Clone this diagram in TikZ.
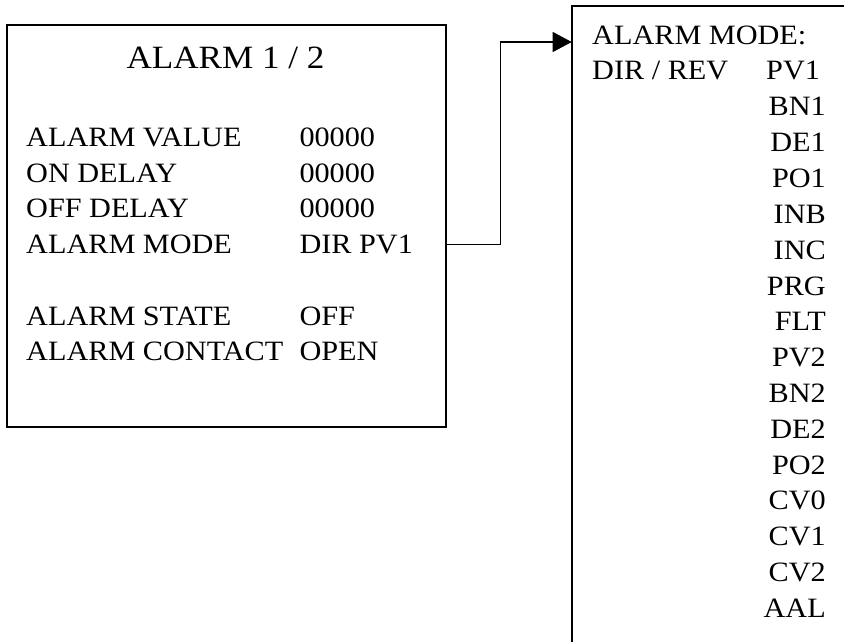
\documentclass[tikz,border=0pt]{standalone}
\usepackage{fontspec}
\setmainfont{Liberation Serif}[FakeStretch=1.08]
\usetikzlibrary{arrows.meta, positioning}
\tikzstyle{frame} = [draw=black, line width=1.6pt, rectangle, inner sep=0pt]
\tikzstyle{txt} = [font=\fontsize{28}{33}\selectfont, inner sep=0pt, text=black]
\tikzstyle{link} = [line width=1.2pt, -{Triangle[length=19pt, width=20pt]}]
\newcommand{\rowstep}{35.5}
\newcommand{\modestep}{35.8}

\begin{document}
\begin{tikzpicture}[x=1pt, y=-1pt]
	\useasboundingbox (0,0) rectangle (844,642);

	% left box
	\node [frame, anchor=north west, minimum width=439pt, minimum height=402pt] at (6,24) (alarm) {};
	\node [txt, font=\fontsize{32.5}{38}\selectfont, anchor=base] at (225.5,68.3) (title) {ALARM 1 / 2};

	\node [txt, anchor=base west] at (26,146.7) (valname) {ALARM VALUE};
	\node [txt, anchor=base west] at (26,{146.7+\rowstep}) (onname) {ON DELAY};
	\node [txt, anchor=base west] at (26,{146.7+2*\rowstep}) (offname) {OFF DELAY};
	\node [txt, anchor=base west] at (26,{146.7+3*\rowstep}) (modename) {ALARM MODE};
	\node [txt, anchor=base west] at (26,325) (statename) {ALARM STATE};
	\node [txt, anchor=base west] at (26,{325+\rowstep}) (contname) {ALARM CONTACT};

	\node [txt, anchor=base west] at (299.3,146.7) (valval) {00000};
	\node [txt, anchor=base west] at (299.3,{146.7+\rowstep}) (onval) {00000};
	\node [txt, anchor=base west] at (299.3,{146.7+2*\rowstep}) (offval) {00000};
	\node [txt, anchor=base west] at (299.3,{146.7+3*\rowstep}) (modeval) {DIR PV1};
	\node [txt, anchor=base west] at (299.3,325) (stateval) {OFF};
	\node [txt, anchor=base west] at (299.3,{325+\rowstep}) (contval) {OPEN};

	% right box (runs off the page at right and bottom)
	\draw [line width=1.6pt] (571.7,642) -- (571.7,6) -- (844,6);
	\coordinate (modein) at (571.7,42);

	\node [txt, anchor=base west] at (592,45) (modehead) {ALARM MODE:};
	\node [txt, anchor=base west] at (592,80) (dirrev) {DIR / REV};
	\node [txt, anchor=base west] at (766,80) (pv1) {PV1};
	\foreach \mode [count=\i] in {BN1,DE1,PO1,INB,INC,PRG,FLT,PV2,BN2,DE2,PO2,CV0,CV1,CV2,AAL}
		\node [txt, anchor=base east] at (826,{116+\modestep*(\i-1)}) (mode\i) {\mode};

	% connector
	\draw [link] (alarm.east |- modeval) -- ++(54,0) |- (modein);
\end{tikzpicture}
\end{document}
